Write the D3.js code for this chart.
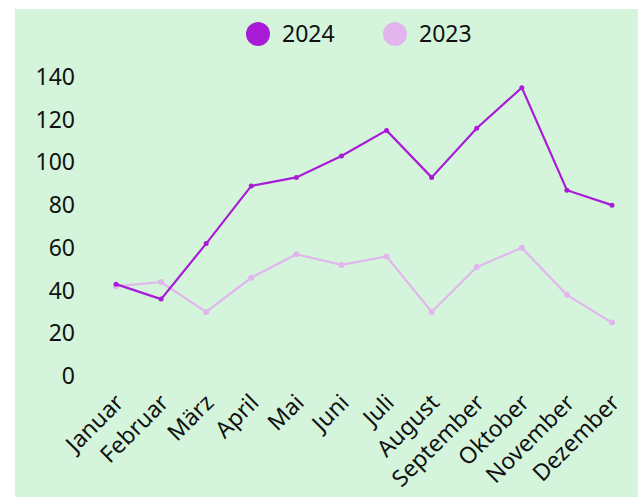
<!DOCTYPE html>
<html>
<meta charset="utf-8">
<style>
    body { margin: 0; background: #fff; }
    text { font-family: "Noto Sans", sans-serif; fill: #111; }
    .line { fill: none; stroke-width: 2.2px; }
</style>
<body>
<script src="https://cdn.jsdelivr.net/npm/d3@7"></script>
<script>

    var width = 638,
        height = 497;

    var months = ["Januar", "Februar", "März", "April", "Mai", "Juni", "Juli",
        "August", "September", "Oktober", "November", "Dezember"];
    var values2024 = [43, 36, 62, 89, 93, 103, 115, 93, 116, 135, 87, 80];
    var values2023 = [42, 44, 30, 46, 57, 52, 56, 30, 51, 60, 38, 25];
    var yTicks = [0, 20, 40, 60, 80, 100, 120, 140];

    var series = [
        { name: "2024", values: values2024, color: "#a91bd6", r: 2.5 },
        { name: "2023", values: values2023, color: "#e2b5ef", r: 3 }
    ];

    var svg = d3.select("body").append("svg")
        .attr("width", width)
        .attr("height", height);

    svg.append("rect")
        .attr("x", 15).attr("y", 9)
        .attr("width", width - 15).attr("height", height - 9)
        .attr("fill", "#d4f5dc");

    var x = d3.scalePoint()
        .domain(months)
        .range([116, 612]);

    var y = d3.scaleLinear()
        .domain([0, 140])
        .range([376, 77]);

    // y labels, no axis line
    svg.append("g").selectAll("text")
        .data(yTicks)
        .enter().append("text")
        .attr("x", 75)
        .attr("y", function (d) { return y(d); })
        .attr("dy", "0.35em")
        .attr("text-anchor", "end")
        .style("font-size", "23px")
        .text(function (d) { return d; });

    // month labels, rotated
    svg.append("g").selectAll("text")
        .data(months)
        .enter().append("text")
        .attr("text-anchor", "end")
        .attr("transform", function (d) {
            return "translate(" + (x(d) + 9) + ",404) rotate(-45)";
        })
        .style("font-size", "23px")
        .text(function (d) { return d; });

    var line = d3.line()
        .x(function (d, i) { return x(months[i]); })
        .y(function (d) { return y(d); });

    // draw 2023 first so 2024 sits on top
    series.slice().reverse().forEach(function (s) {
        svg.append("path")
            .datum(s.values)
            .attr("class", "line")
            .attr("stroke", s.color)
            .attr("d", line);

        svg.append("g").selectAll("circle")
            .data(s.values)
            .enter().append("circle")
            .attr("cx", function (d, i) { return x(months[i]); })
            .attr("cy", function (d) { return y(d); })
            .attr("r", s.r)
            .attr("fill", s.color);
    });

    // legend
    var legend = svg.append("g").selectAll("g")
        .data(series)
        .enter().append("g")
        .attr("transform", function (d, i) { return "translate(" + (258 + i * 137) + ",34)"; });

    legend.append("circle")
        .attr("r", 12)
        .attr("fill", function (d) { return d.color; });

    legend.append("text")
        .attr("x", 24)
        .attr("dy", "0.35em")
        .style("font-size", "23px")
        .text(function (d) { return d.name; });

</script>
</body>
</html>
